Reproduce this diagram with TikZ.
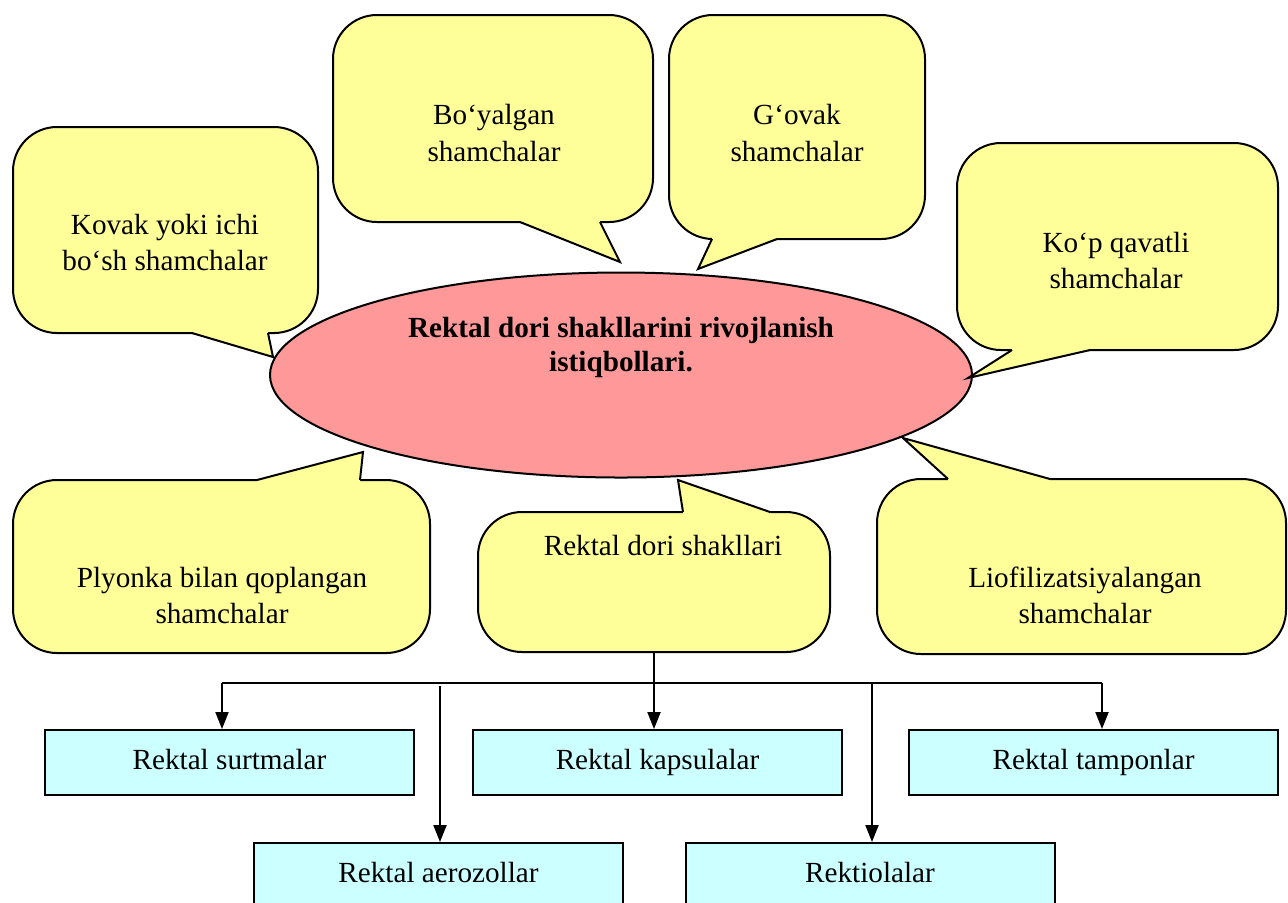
\documentclass[tikz,border=0pt]{standalone}
\usepackage{fontspec}
\setmainfont{Liberation Serif}
\usepackage{xcolor}
\usetikzlibrary{arrows.meta,positioning,shapes.geometric}
\definecolor{bubblefill}{HTML}{FFFF99}
\definecolor{goalfill}{HTML}{FF9999}
\definecolor{formfill}{HTML}{CCFFFF}

\begin{document}
\begin{tikzpicture}[
  x=0.5pt, y=-0.5pt,
  font=\fontsize{14.6}{18}\selectfont,
  bubble/.style={draw, line width=1pt, fill=bubblefill, rounded corners=22pt,
    inner sep=0pt},
  tipfill/.style={fill=bubblefill},
  tipline/.style={line width=1pt, line join=miter},
  txt/.style={align=center, inner sep=0pt},
  goal/.style={draw, ellipse, line width=1pt, fill=goalfill,
    minimum width=351pt, minimum height=102.5pt, inner sep=0pt},
  form/.style={draw, line width=1pt, fill=formfill, minimum width=184.5pt,
    minimum height=32.5pt, inner sep=0pt, text height=10pt, text depth=3pt},
  arr/.style={-{Triangle[length=8.5pt,width=6.5pt]}, line width=1pt},
]
\useasboundingbox (0,0) rectangle (1288,902);

% central goal
\node[goal] (goal) at (621,375) {};
\node[txt, font=\fontsize{14.6}{17}\selectfont\bfseries] (goaltxt) at (621,347)
  {Rektal dori shakllarini rivojlanish\\istiqbollari.};

% callout boxes
\node[bubble, minimum width=152.5pt, minimum height=103pt] (kovakbox) at (165.5,230) {};
\node[bubble, minimum width=160pt, minimum height=103.5pt] (boyalganbox) at (493,118.5) {};
\node[bubble, minimum width=128pt, minimum height=112pt] (govakbox) at (797,127) {};
\node[bubble, minimum width=160.5pt, minimum height=103.5pt] (kopbox) at (1117.5,246.5) {};
\node[bubble, minimum width=208.5pt, minimum height=86.5pt] (plyonkabox) at (221.5,566.5) {};
\node[bubble, minimum width=176pt, minimum height=70pt] (shaklbox) at (654,582) {};
\node[bubble, minimum width=204.5pt, minimum height=87.5pt] (liofilbox) at (1081.5,566.5) {};

% callout pointers
\fill[tipfill] (192,333) -- (273,357) -- (268,333) -- (268,329) -- (192,329) -- cycle;
\draw[tipline] (192,333) -- (273,357) -- (268,333);
\fill[tipfill] (520,222) -- (620,262) -- (600,222) -- (600,218) -- (520,218) -- cycle;
\draw[tipline] (520,222) -- (620,262) -- (600,222);
\fill[tipfill] (712,239) -- (698,269) -- (777,239) -- (777,235) -- (712,235) -- cycle;
\draw[tipline] (712,239) -- (698,269) -- (777,239);
\fill[tipfill] (1012,350) -- (968,378) -- (1090,350) -- (1090,346) -- (1012,346) -- cycle;
\draw[tipline] (1012,350) -- (968,378) -- (1090,350);
\fill[tipfill] (257,480) -- (363,452) -- (360,480) -- (360,484) -- (257,484) -- cycle;
\draw[tipline] (257,480) -- (363,452) -- (360,480);
\fill[tipfill] (683,512) -- (678,480) -- (770,512) -- (770,516) -- (683,516) -- cycle;
\draw[tipline] (683,512) -- (678,480) -- (770,512);
\fill[tipfill] (948,479) -- (903,438) -- (1050,479) -- (1050,483) -- (948,483) -- cycle;
\draw[tipline] (948,479) -- (903,438) -- (1050,479);

% callout texts
\node[txt] (kovak) at (165,242) {Kovak yoki ichi\\bo‘sh shamchalar};
\node[txt] (boyalgan) at (494,133) {Bo‘yalgan\\shamchalar};
\node[txt] (govak) at (797,133) {G‘ovak\\shamchalar};
\node[txt] (kop) at (1116,260) {Ko‘p qavatli\\shamchalar};
\node[txt] (plyonka) at (222,595) {Plyonka bilan qoplangan\\shamchalar};
\node[txt] (shakl) at (663,545) {Rektal dori shakllari};
\node[txt] (liofil) at (1085,595) {Liofilizatsiyalangan\\shamchalar};

% rectal forms
\node[form] (surt) at (229.5,762.5) {Rektal surtmalar};
\node[form] (kaps) at (657.5,762.5) {Rektal kapsulalar};
\node[form] (tamp) at (1093.5,762.5) {Rektal tamponlar};
\node[form] (aero) at (438.5,875.5) {Rektal aerozollar};
\node[form] (rekt) at (870,875.5) {Rektiolalar};

\coordinate (busL) at (222,683);
\coordinate (busR) at (1102,683);
\coordinate (aerotop) at (440,686);
\coordinate (rekttop) at (872,683);

\draw[line width=1pt] (busL) -- (busR);
\draw[arr] (shaklbox.south) -- (shaklbox.south |- kaps.north);
\draw[arr] (busL) -- (busL |- surt.north);
\draw[arr] (busR) -- (busR |- tamp.north);
\draw[arr] (aerotop) -- (aerotop |- aero.north);
\draw[arr] (rekttop) -- (rekttop |- rekt.north);
\end{tikzpicture}
\end{document}
